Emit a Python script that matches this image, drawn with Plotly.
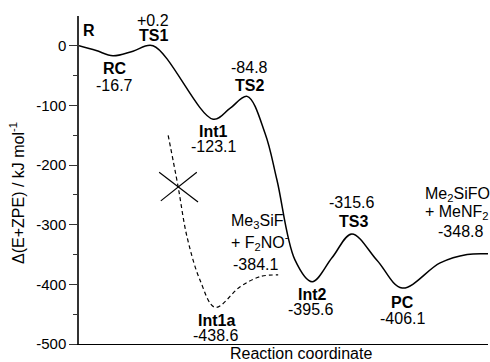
import plotly.graph_objects as go

# Main reaction path (reaction coordinate, energy kJ/mol)
path_x = [0.0, 0.42, 0.83, 1.32, 1.81, 3.28, 3.69, 4.11, 4.55, 4.84, 5.28, 5.70, 6.19, 6.67, 7.29, 7.90, 8.83, 9.49, 10.0]
path_y = [0.0, -8, -16.7, -9, 0.2, -123.1, -105, -84.8, -147, -225, -359, -395.6, -355, -315.6, -360, -406.1, -364, -350, -348.8]

# Alternative (dashed) path to Int1a
alt_x = [2.18, 2.42, 2.64, 2.96, 3.33, 3.94, 4.43, 4.87]
alt_y = [-150, -235, -320, -393, -438.6, -404, -387, -384.1]

# Cross marking the blocked path
cross1_x = [1.96, 2.91]
cross1_y = [-212, -262]
cross2_x = [2.00, 2.88]
cross2_y = [-260, -212]

# Labels
label_x = [0.05, 1.81, 1.81, 0.88, 0.88, 4.16, 4.18, 3.28, 3.28, 3.37, 3.33,
           3.66, 3.66, 4.32, 5.70, 5.67, 6.67, 6.70, 7.92, 7.90, 8.41, 8.41, 9.32]
label_y = [26, 43, 17.9, -37.4, -65.8, -35.7, -65.8, -142.9, -168, -460, -485,
           -295.3, -328.8, -367, -417.6, -442.7, -263.5, -295.3, -431, -457.8, -250, -280.2, -312]
label_text = ["<b>R</b>", "+0.2", "<b>TS1</b>", "<b>RC</b>", "-16.7", "-84.8", "<b>TS2</b>",
              "<b>Int1</b>", "-123.1", "<b>Int1a</b>", "-438.6",
              "Me<sub>3</sub>SiF", "+ F<sub>2</sub>NO<sup>-</sup>", "-384.1",
              "<b>Int2</b>", "-395.6", "-315.6", "<b>TS3</b>", "<b>PC</b>", "-406.1",
              "Me<sub>2</sub>SiFO", "+ MeNF<sub>2</sub>", "-348.8"]
label_anchor = ["left", "center", "center", "center", "center", "center", "center",
                "center", "center", "center", "center",
                "left", "left", "center", "center", "center", "center", "center",
                "center", "center", "left", "left", "center"]

y_ticks = [-500, -400, -300, -200, -100, 0]
y_minor = [-450, -350, -250, -150, -50]

FONT = "Liberation Sans, Arial, sans-serif"

fig = go.Figure()
fig.add_trace(go.Scatter(x=path_x, y=path_y, mode="lines",
                         line=dict(color="black", width=1.5, shape="spline", smoothing=1.0),
                         hoverinfo="skip"))
fig.add_trace(go.Scatter(x=alt_x, y=alt_y, mode="lines",
                         line=dict(color="black", width=1.2, shape="spline", smoothing=1.0, dash="4px,3px"),
                         hoverinfo="skip"))
for cx, cy in [(cross1_x, cross1_y), (cross2_x, cross2_y)]:
    fig.add_trace(go.Scatter(x=cx, y=cy, mode="lines",
                             line=dict(color="black", width=1.2), hoverinfo="skip"))

for x, y, t, a in zip(label_x, label_y, label_text, label_anchor):
    fig.add_annotation(x=x, y=y, text=t, xanchor=a, yanchor="middle", showarrow=False,
                       font=dict(family=FONT, size=16, color="black"))

fig.add_annotation(xref="paper", yref="paper", x=(301 - 79) / 409, y=-0.03, yanchor="middle",
                   text="Reaction coordinate", showarrow=False,
                   font=dict(family=FONT, size=16, color="black"))
fig.add_annotation(xref="paper", yref="paper", x=(17 - 79) / 409, y=(344 - 193) / 328,
                   text="Δ(E+ZPE) / kJ mol<sup>-1</sup>", textangle=-90, showarrow=False,
                   xanchor="center", yanchor="middle",
                   font=dict(family=FONT, size=16, color="black"))

fig.update_layout(
    width=490, height=362,
    margin=dict(l=79, r=2, t=16, b=18),
    paper_bgcolor="white", plot_bgcolor="white",
    showlegend=False,
    font=dict(family=FONT, color="black"),
    xaxis=dict(range=[0, 10], showline=True, linecolor="black", linewidth=1.2,
               showticklabels=False, ticks="", showgrid=False, zeroline=False, fixedrange=True),
    yaxis=dict(range=[-500, 50], showline=True, linecolor="#333", linewidth=1.5,
               tickvals=y_ticks, ticktext=[str(v) for v in y_ticks], ticks="outside",
               ticklen=8, tickwidth=1.2, tickcolor="#333",
               tickfont=dict(family=FONT, size=15, color="black"),
               minor=dict(tickvals=y_minor, ticks="outside", ticklen=4, tickwidth=1.2, tickcolor="#333"),
               showgrid=False, zeroline=False, fixedrange=True),
)

fig.write_html("out.html", config={"displayModeBar": False})

# remove default page margin so the figure sits at the top-left corner
with open("out.html", "r", encoding="utf-8") as f:
    html = f.read()
html = html.replace("<head>", "<head><style>html,body{margin:0;padding:0;overflow:hidden;}</style>", 1)
with open("out.html", "w", encoding="utf-8") as f:
    f.write(html)
